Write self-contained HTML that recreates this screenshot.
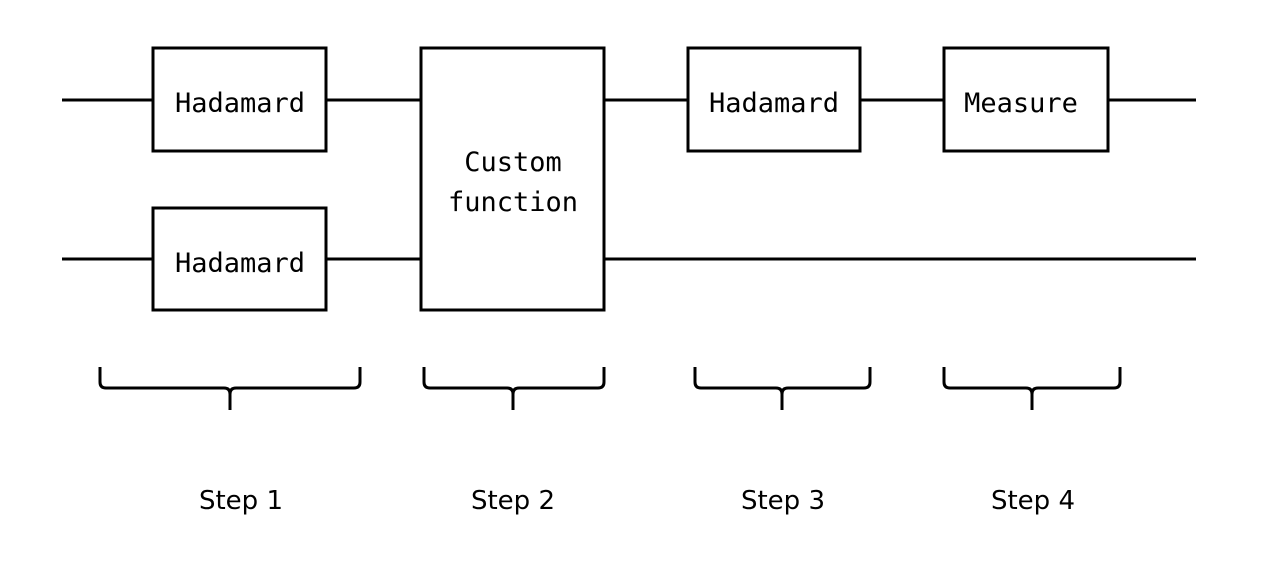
<!DOCTYPE html>
<html><head><style>body{margin:0;background:#fff}svg{display:block}</style></head><body>
<svg width="1264" height="564" viewBox="0 0 1264 564" xmlns="http://www.w3.org/2000/svg">
<g stroke="#000" stroke-width="3" fill="none">
<line x1="62" y1="100" x2="153" y2="100"/>
<line x1="326" y1="100" x2="421" y2="100"/>
<line x1="604" y1="100" x2="688" y2="100"/>
<line x1="860" y1="100" x2="944" y2="100"/>
<line x1="1108" y1="100" x2="1196" y2="100"/>
<line x1="62" y1="259" x2="153" y2="259"/>
<line x1="326" y1="259" x2="421" y2="259"/>
<line x1="604" y1="259" x2="1196" y2="259"/>
<rect x="153" y="48" width="173" height="103"/>
<rect x="153" y="208" width="173" height="102"/>
<rect x="421" y="48" width="183" height="262"/>
<rect x="688" y="48" width="172" height="103"/>
<rect x="944" y="48" width="164" height="103"/>
<path d="M100 367 V382 Q100 388 106 388 H224 Q230 388 230 394 V410 M230 394 Q230 388 236 388 H354 Q360 388 360 382 V367"/>
<path d="M424 367 V382 Q424 388 430 388 H507 Q513 388 513 394 V410 M513 394 Q513 388 519 388 H598 Q604 388 604 382 V367"/>
<path d="M695 367 V382 Q695 388 701 388 H776 Q782 388 782 394 V410 M782 394 Q782 388 788 388 H864 Q870 388 870 382 V367"/>
<path d="M944 367 V382 Q944 388 950 388 H1026 Q1032 388 1032 394 V410 M1032 394 Q1032 388 1038 388 H1114 Q1120 388 1120 382 V367"/>
</g>
<g font-family="DejaVu Sans Mono, monospace" font-size="27" text-anchor="middle" fill="#000">
<text x="240" y="112">Hadamard</text>
<text x="240" y="272">Hadamard</text>
<text x="513" y="171">Custom</text>
<text x="513" y="211">function</text>
<text x="774" y="112">Hadamard</text>
<text x="1021" y="112">Measure</text>
</g>
<g font-family="DejaVu Sans, sans-serif" font-size="26" text-anchor="middle" fill="#000">
<text x="241" y="509">Step 1</text>
<text x="513" y="509">Step 2</text>
<text x="783" y="509">Step 3</text>
<text x="1033" y="509">Step 4</text>
</g>
</svg>
</body></html>
